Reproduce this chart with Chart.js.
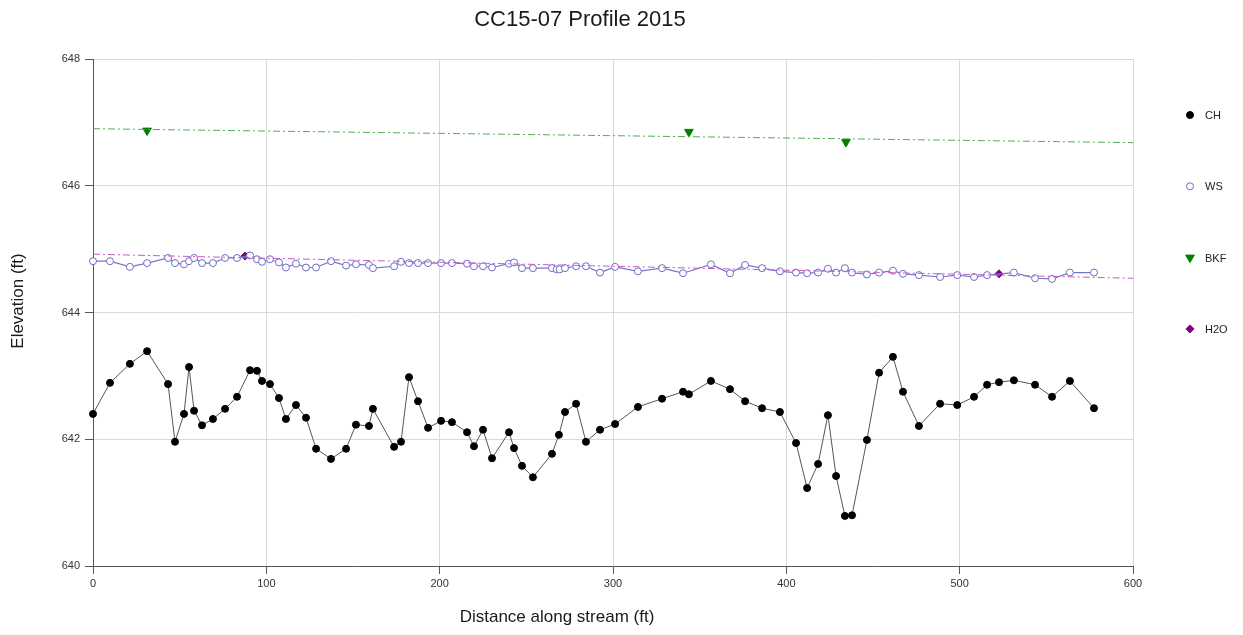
<!DOCTYPE html>
<html>
<head>
<meta charset="utf-8">
<title>CC15-07 Profile 2015</title>
<script src="https://cdn.jsdelivr.net/npm/chart.js@4.4.1/dist/chart.umd.min.js"></script>
<style>
  body { margin: 0; background: #fff; }
  #wrap { width: 1243px; height: 635px; }
</style>
</head>
<body>
<div id="wrap"><canvas id="myChart" width="1243" height="635"></canvas></div>
<script>
// channel bed (CH)
const chX = [0, 9.8, 21.3, 31.2, 43.3, 47.3, 52.5, 55.4, 58.3, 62.9, 69.2, 76.2, 83.1, 90.6, 94.6, 97.5, 102.1, 107.3, 111.3, 117.1,
  122.9, 128.7, 137.3, 146.0, 151.7, 159.2, 161.5, 173.7, 177.7, 182.3, 187.5, 193.3, 200.8, 207.1, 215.8, 219.8, 225.0, 230.2, 240.0, 242.9,
  247.5, 253.8, 264.8, 268.8, 272.3, 278.7, 284.4, 292.5, 301.2, 314.4, 328.3, 340.4, 343.8, 356.5, 367.5, 376.2, 386.0, 396.3, 405.6, 412.0,
  418.3, 424.0, 428.7, 433.8, 437.9, 446.5, 453.5, 461.5, 467.3, 476.5, 488.7, 498.6, 508.3, 515.8, 522.7, 531.3, 543.5, 553.3, 563.6, 577.5];
const chY = [642.40, 642.89, 643.19, 643.39, 642.87, 641.96, 642.40, 643.14, 642.45, 642.22, 642.32, 642.48, 642.67, 643.09, 643.08, 642.92, 642.87, 642.65, 642.32, 642.54,
  642.34, 641.85, 641.69, 641.85, 642.23, 642.21, 642.48, 641.88, 641.96, 642.98, 642.60, 642.18, 642.29, 642.27, 642.11, 641.89, 642.15, 641.70, 642.11, 641.86,
  641.58, 641.40, 641.77, 642.07, 642.43, 642.56, 641.96, 642.15, 642.24, 642.51, 642.64, 642.75, 642.71, 642.92, 642.79, 642.60, 642.49, 642.43, 641.94, 641.23,
  641.61, 642.38, 641.42, 640.79, 640.80, 641.99, 643.05, 643.30, 642.75, 642.21, 642.56, 642.54, 642.67, 642.86, 642.90, 642.93, 642.86, 642.67, 642.92, 642.49];

// water surface (WS)
const wsX = [0, 9.8, 21.3, 31.2, 43.3, 47.3, 52.5, 55.4, 58.3, 62.9, 69.2, 76.2, 83.1, 90.6, 94.6, 97.5, 102.1, 107.3, 111.3, 117.1,
  122.9, 128.7, 137.3, 146.0, 151.7, 159.2, 161.5, 173.7, 177.7, 182.3, 187.5, 193.3, 200.8, 207.1, 215.8, 219.8, 225.0, 230.2, 240.0, 242.9,
  247.5, 253.8, 264.8, 267.5, 269.2, 272.3, 278.7, 284.4, 292.5, 301.2, 314.4, 328.3, 340.4, 356.5, 367.5, 376.2, 386.0, 396.3, 405.6, 412.0,
  418.3, 424.0, 428.7, 433.8, 437.9, 446.5, 453.5, 461.5, 467.3, 476.5, 488.7, 498.6, 508.3, 515.8, 531.3, 543.5, 553.3, 563.6, 577.5];
const wsY = [644.81, 644.81, 644.72, 644.78, 644.86, 644.78, 644.76, 644.81, 644.86, 644.78, 644.78, 644.86, 644.86, 644.90, 644.84, 644.80, 644.84, 644.79, 644.71, 644.77,
  644.71, 644.71, 644.81, 644.74, 644.76, 644.75, 644.70, 644.73, 644.80, 644.78, 644.78, 644.78, 644.78, 644.78, 644.77, 644.73, 644.73, 644.71, 644.77, 644.79,
  644.70, 644.70, 644.70, 644.68, 644.68, 644.70, 644.73, 644.73, 644.63, 644.72, 644.65, 644.70, 644.62, 644.76, 644.62, 644.75, 644.70, 644.65, 644.63, 644.62,
  644.63, 644.69, 644.63, 644.70, 644.63, 644.60, 644.63, 644.66, 644.61, 644.59, 644.56, 644.59, 644.56, 644.59, 644.63, 644.54, 644.53, 644.63, 644.63];

// bankfull (BKF) and water (H2O) indicators
const bkfX = [31.2, 343.8, 434.4];
const bkfY = [646.87, 646.85, 646.69];
const h2oX = [87.7, 522.7];
const h2oY = [644.89, 644.61];

// trend lines at both ends
const trendX = [0, 600];
const bkfTrendY = [646.90, 646.68];
const h2oTrendY = [644.92, 644.54];

const xTicks = [0, 100, 200, 300, 400, 500, 600];
const yTicks = [640, 642, 644, 646, 648];

const chartTitle = 'CC15-07 Profile 2015';
const xTitle = 'Distance along stream (ft)';
const yTitle = 'Elevation (ft)';

const FONT = '"Liberation Sans", Arial, sans-serif';

const pts = (xs, ys) => xs.map((x, i) => ({x: x, y: ys[i]}));

const legendItems = [
  {text: 'CH', style: 'circle', radius: 3.5, fill: '#000', stroke: '#000'},
  {text: 'WS', style: 'circle', radius: 3.5, fill: '#fff', stroke: '#6d6dc6'},
  {text: 'BKF', style: 'triangle', radius: 5, rotation: 180, fill: '#008000', stroke: '#008000'},
  {text: 'H2O', style: 'rectRot', radius: 4, fill: '#800080', stroke: '#800080'}
];

const overlay = {
  id: 'overlay',
  afterDraw(chart) {
    const c = chart.ctx;
    c.save();
    c.fillStyle = '#1a1a1a';
    c.textAlign = 'center';
    c.textBaseline = 'middle';
    c.font = '22px ' + FONT;
    c.fillText(chartTitle, 580, 20);
    c.font = '17px ' + FONT;
    c.fillText(xTitle, 557, 617);
    c.save();
    c.translate(18, 301);
    c.rotate(-Math.PI / 2);
    c.fillText(yTitle, 0, 0);
    c.restore();

    c.font = '11px ' + FONT;
    c.textAlign = 'left';
    legendItems.forEach((item, i) => {
      const y = 115 + i * 71.3;
      c.fillStyle = item.fill;
      c.strokeStyle = item.stroke;
      c.lineWidth = 1;
      Chart.helpers.drawPoint(c, {pointStyle: item.style, radius: item.radius, rotation: item.rotation || 0, borderWidth: 1}, 1190, y);
      c.fillStyle = '#222';
      c.fillText(item.text, 1205, y + 1);
    });
    c.restore();
  }
};

new Chart(document.getElementById('myChart'), {
  type: 'scatter',
  data: {
    datasets: [
      {
        label: 'BKF trend',
        data: pts(trendX, bkfTrendY),
        showLine: true,
        borderColor: '#4caf50',
        borderWidth: 1,
        borderDash: [7, 3, 2, 3],
        pointRadius: 0
      },
      {
        label: 'H2O trend',
        data: pts(trendX, h2oTrendY),
        showLine: true,
        borderColor: '#c65ac6',
        borderWidth: 1,
        borderDash: [7, 3, 2, 3],
        pointRadius: 0
      },
      {
        label: 'CH',
        data: pts(chX, chY),
        showLine: true,
        clip: false,
        borderColor: '#555',
        borderWidth: 1,
        pointRadius: 3.5,
        pointBackgroundColor: '#000',
        pointBorderColor: '#000'
      },
      {
        label: 'WS',
        data: pts(wsX, wsY),
        showLine: true,
        clip: false,
        borderColor: '#7575d0',
        borderWidth: 1.2,
        pointRadius: 3.5,
        pointBorderWidth: 1,
        pointBackgroundColor: '#fff',
        pointBorderColor: '#6d6dc6'
      },
      {
        label: 'BKF',
        data: pts(bkfX, bkfY),
        clip: false,
        pointStyle: 'triangle',
        rotation: 180,
        pointRadius: 5,
        pointBackgroundColor: '#008000',
        pointBorderColor: '#008000'
      },
      {
        label: 'H2O',
        data: pts(h2oX, h2oY),
        clip: false,
        pointStyle: 'rectRot',
        pointRadius: 4,
        pointBackgroundColor: '#800080',
        pointBorderColor: '#800080'
      }
    ]
  },
  options: {
    responsive: false,
    animation: false,
    layout: { padding: { top: 59, right: 110, bottom: 39, left: 0 } },
    plugins: {
      legend: { display: false },
      title: { display: false },
      tooltip: { enabled: false }
    },
    scales: {
      x: {
        type: 'linear',
        min: 0,
        max: 600,
        afterBuildTicks: (scale) => { scale.ticks = xTicks.map(v => ({value: v})); },
        afterFit: (scale) => { scale.height = 30; },
        border: { color: '#555', width: 1 },
        grid: { color: '#d9d9d9', tickColor: '#555', tickLength: 8 },
        ticks: { color: '#333', padding: 3, font: { size: 11, family: FONT } }
      },
      y: {
        min: 640,
        max: 648,
        afterBuildTicks: (scale) => { scale.ticks = yTicks.map(v => ({value: v})); },
        afterFit: (scale) => { scale.width = 93; },
        border: { color: '#555', width: 1 },
        grid: { color: '#d9d9d9', tickColor: '#555', tickLength: 8 },
        ticks: { color: '#333', padding: 5, font: { size: 11, family: FONT } }
      }
    }
  },
  plugins: [overlay]
});
</script>
</body>
</html>
